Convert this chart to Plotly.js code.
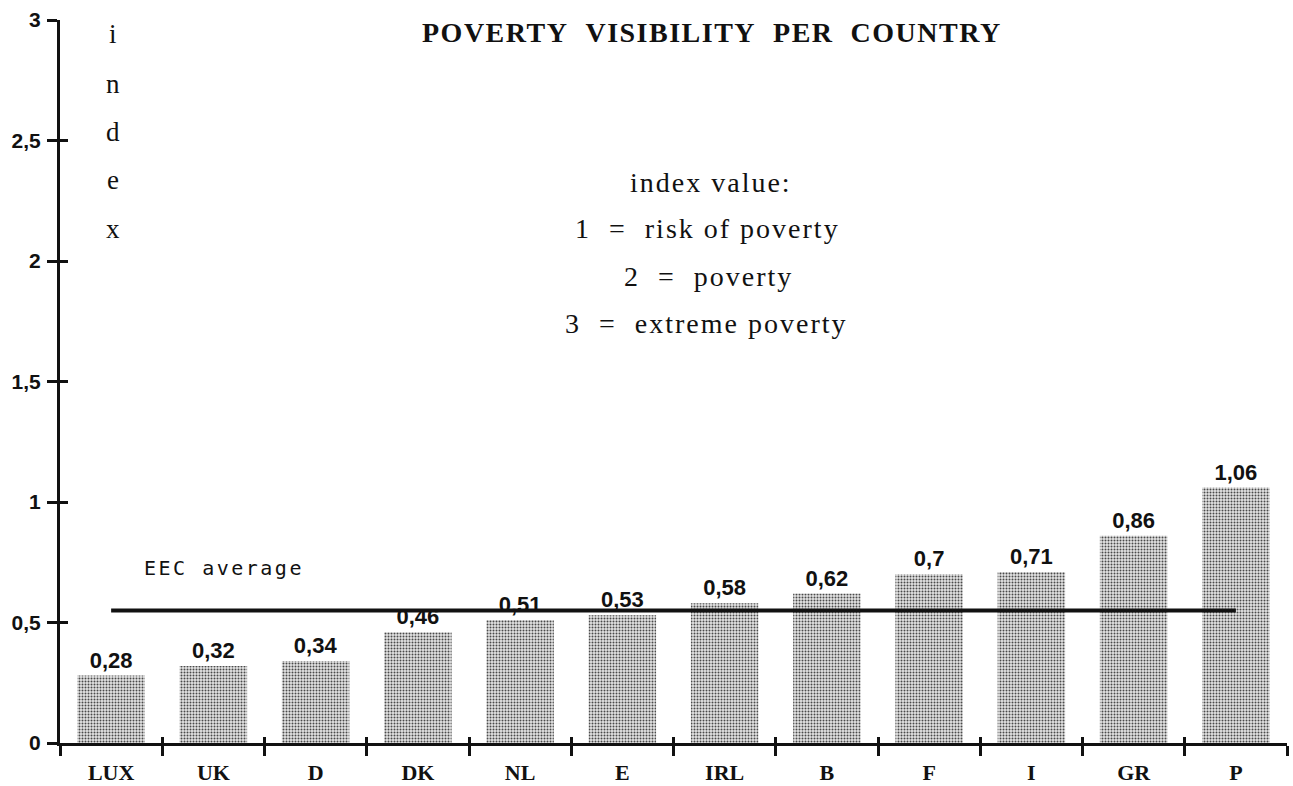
<!DOCTYPE html>
<html>
<head>
<meta charset="utf-8">
<script src="https://cdn.plot.ly/plotly-3.0.1.min.js"></script>
<style>
html,body{margin:0;padding:0;background:#fff;}
#chart{width:1293px;height:786px;}
.annotation[data-index="0"] text{letter-spacing:1.5px;}
.annotation[data-index="6"] text,.annotation[data-index="7"] text,.annotation[data-index="8"] text,.annotation[data-index="9"] text{letter-spacing:2px;}
.annotation[data-index="10"] text{letter-spacing:2.5px;}
</style>
</head>
<body>
<div id="chart"></div>
<script>
const countries = ["LUX","UK","D","DK","NL","E","IRL","B","F","I","GR","P"];
const indexValues = [0.28,0.32,0.34,0.46,0.51,0.53,0.58,0.62,0.7,0.71,0.86,1.06];
const eecAverage = 0.55;
const yTickVals = [0,0.5,1,1.5,2,2.5,3];
const yTickText = ["0","0,5","1","1,5","2","2,5","3"];
const legendLines = ["index value:","1  =  risk of poverty","2  =  poverty","3  =  extreme poverty"];
const axisLetters = ["i","n","d","e","x"];

const labels = indexValues.map(v => String(v).replace('.', ','));

const bars = {
  type: 'bar',
  x: countries,
  y: indexValues,
  text: labels,
  textposition: 'outside',
  cliponaxis: false,
  textfont: {family: 'Liberation Sans, Arial, sans-serif', size: 22, color: '#111', weight: 'bold'},
  marker: {
    color: '#bdbdbd',
    line: {width: 0},
    pattern: {shape: '.', fgcolor: '#4a4a4a', bgcolor: '#e4e4e4', size: 3, solidity: 0.35}
  },
  hoverinfo: 'x+y',
  showlegend: false
};

const avgLine = {
  type: 'scatter',
  mode: 'lines',
  x: countries,
  y: countries.map(() => eecAverage),
  xaxis: 'x2', yaxis: 'y2',
  line: {color: '#111', width: 4},
  hoverinfo: 'skip',
  showlegend: false
};

const serif = 'Liberation Serif, Times New Roman, serif';
const px2x = p => (p - 60) / 1227;
const px2y = p => (743 - p) / 723;
const annotations = [];
annotations.push({
  text: 'POVERTY&nbsp;&nbsp;VISIBILITY&nbsp;&nbsp;PER&nbsp;&nbsp;COUNTRY', xref: 'paper', yref: 'paper',
  x: px2x(420), y: px2y(32), xanchor: 'left', yanchor: 'middle', align: 'left', showarrow: false,
  font: {family: serif, size: 28, color: '#111', weight: 'bold'}
});
const letterY = [34, 84, 132, 180, 229];
axisLetters.forEach((ch, i) => {
  annotations.push({
    text: ch, xref: 'paper', yref: 'paper',
    x: px2x(113), y: px2y(letterY[i]),
    xanchor: 'center', yanchor: 'middle', showarrow: false,
    font: {family: serif, size: 27, color: '#111'}
  });
});
const legX = [628, 573, 622, 563];
const legY = [182, 229, 277, 324];
legendLines.forEach((t, i) => {
  annotations.push({
    text: t.replace(/ /g, '&nbsp;'), xref: 'paper', yref: 'paper',
    x: px2x(legX[i]), y: px2y(legY[i]),
    xanchor: 'left', yanchor: 'middle', align: 'left', showarrow: false,
    font: {family: serif, size: 28, color: '#111'}
  });
});
annotations.push({
  text: 'EEC&nbsp;average', xref: 'paper', yref: 'paper',
  x: px2x(142), y: px2y(568),
  xanchor: 'left', yanchor: 'middle', align: 'left', showarrow: false,
  font: {family: 'DejaVu Sans Mono, monospace', size: 20, color: '#111'}
});

const layout = {
  width: 1293, height: 786,
  margin: {l: 60, r: 6, t: 20, b: 43},
  paper_bgcolor: '#fff', plot_bgcolor: '#fff',
  bargap: 0.34,
  showlegend: false,
  xaxis: {
    type: 'category', categoryorder: 'array', categoryarray: countries,
    showline: true, linecolor: '#111', linewidth: 3,
    ticks: 'outside', tickson: 'boundaries', ticklen: 10, tickwidth: 3, tickcolor: '#111',
    ticklabelstandoff: 8,
    showgrid: false, zeroline: false,
    tickfont: {family: serif, size: 22, color: '#111', weight: 'bold'},
    range: [-0.5, 11.5]
  },
  xaxis2: {
    type: 'category', categoryorder: 'array', categoryarray: countries,
    overlaying: 'x', side: 'bottom', range: [-0.5, 11.5],
    showline: false, showgrid: false, zeroline: false, showticklabels: false,
    ticks: 'inside', tickson: 'boundaries', ticklen: 6, tickwidth: 3, tickcolor: '#111'
  },
  yaxis: {
    range: [0, 3],
    tickvals: yTickVals, ticktext: yTickText,
    showline: true, linecolor: '#111', linewidth: 3,
    ticks: 'outside', ticklen: 10, tickwidth: 3, tickcolor: '#111',
    ticklabelstandoff: 2,
    showgrid: false, zeroline: false,
    tickfont: {family: 'Liberation Sans, Arial, sans-serif', size: 21, color: '#111', weight: 'bold'}
  },
  yaxis2: {
    range: [0, 3], overlaying: 'y', side: 'left',
    tickvals: yTickVals,
    showline: false, showgrid: false, zeroline: false, showticklabels: false,
    ticks: 'inside', ticklen: 8, tickwidth: 3, tickcolor: '#111'
  },
  annotations: annotations
};

Plotly.newPlot('chart', [bars, avgLine], layout, {displayModeBar: false, staticPlot: true});
</script>
</body>
</html>
